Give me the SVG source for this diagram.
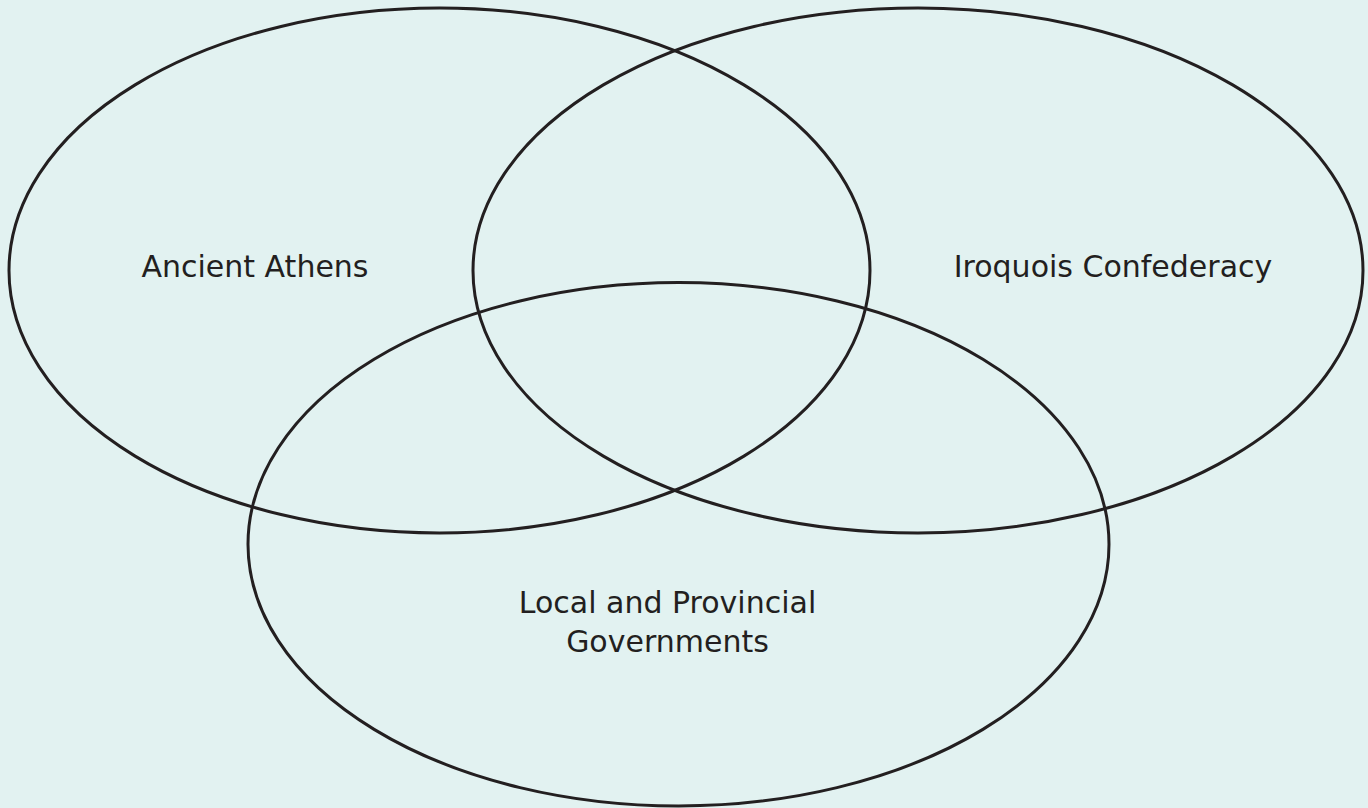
<svg xmlns="http://www.w3.org/2000/svg" width="1368" height="808" viewBox="0 0 1368 808">
<style>
.c{fill:none;stroke:#231f20;stroke-width:3}
.t{font-family:"DejaVu Sans","Liberation Sans",sans-serif;font-size:30px;fill:#231f20;text-anchor:middle}
</style>
<rect width="1368" height="808" fill="#e2f2f1"/>
<g id="athens">
<ellipse class="c" cx="439.5" cy="270.5" rx="430.5" ry="262.5"/>
<text class="t" x="255" y="277">Ancient Athens</text>
</g>
<g id="iroquois">
<ellipse class="c" cx="918" cy="270.5" rx="445" ry="262.5"/>
<text class="t" x="1113" y="277">Iroquois Confederacy</text>
</g>
<g id="local">
<ellipse class="c" cx="678.5" cy="544.3" rx="430.5" ry="261.7"/>
<text class="t" x="667.5" y="613">Local and Provincial</text>
<text class="t" x="667.5" y="652">Governments</text>
</g>
<g id="connectors"/>
</svg>
